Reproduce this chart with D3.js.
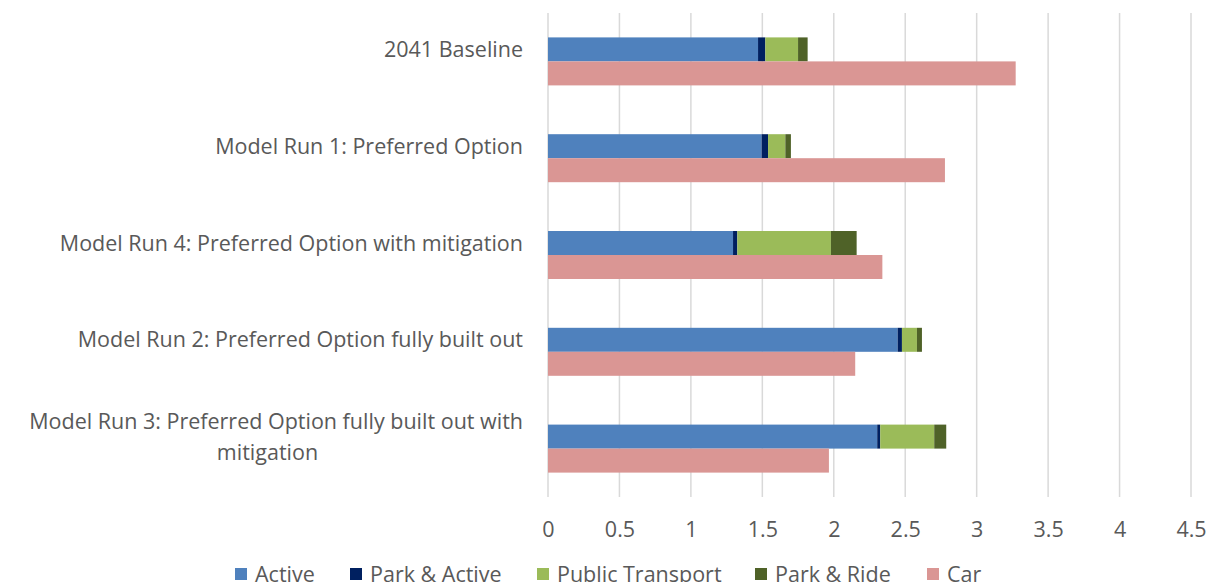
<!DOCTYPE html>
<html>
<head>
<meta charset="utf-8">
<script src="https://cdn.jsdelivr.net/npm/d3@7"></script>
<style>
  html, body { margin: 0; padding: 0; background: #fff; }
  svg { display: block; }
  text { font-family: "Open Sans", Lato, sans-serif; fill: #595959; }
</style>
</head>
<body>
<svg id="chart" width="1208" height="582"></svg>
<script>
// Scenario names (two-line labels split with "\n")
const categories = [
  "2041 Baseline",
  "Model Run 1: Preferred Option",
  "Model Run 4: Preferred Option with mitigation",
  "Model Run 2: Preferred Option fully built out",
  "Model Run 3: Preferred Option fully built out with\nmitigation"
];
// Stacked sustainable-mode series
const active          = [1.470, 1.495, 1.295, 2.447, 2.304];
const parkActive      = [0.051, 0.045, 0.030, 0.030, 0.021];
const publicTransport = [0.229, 0.121, 0.655, 0.105, 0.378];
const parkRide        = [0.067, 0.039, 0.180, 0.035, 0.084];
// Car series (separate bar)
const car             = [3.273, 2.778, 2.340, 2.150, 1.966];

const tickValues = [0, 0.5, 1, 1.5, 2, 2.5, 3, 3.5, 4, 4.5];
const seriesNames = ["Active", "Park & Active", "Public Transport", "Park & Ride", "Car"];
const seriesColors = ["#4f81bd", "#002060", "#9bbb59", "#4f6228", "#da9694"];

const svg = d3.select("#chart");
const plot = { left: 548, right: 1191, top: 13, bottom: 497 };
const fontSize = 21.5;

const x = d3.scaleLinear().domain([0, 4.5]).range([plot.left, plot.right]);
const y = d3.scaleBand().domain(categories).range([plot.top, plot.bottom]).paddingInner(0).paddingOuter(0);
const barH = 24;

// Vertical gridlines
svg.append("g")
  .selectAll("line")
  .data(tickValues)
  .join("line")
  .attr("x1", d => x(d)).attr("x2", d => x(d))
  .attr("y1", plot.top).attr("y2", plot.bottom)
  .attr("stroke", "#d9d9d9").attr("stroke-width", 1.5);

// Stacked bars (upper half of each band)
const stackKeys = ["active", "parkActive", "publicTransport", "parkRide"];
const rows = categories.map((c, i) => ({
  cat: c,
  active: active[i], parkActive: parkActive[i],
  publicTransport: publicTransport[i], parkRide: parkRide[i]
}));
const stacked = d3.stack().keys(stackKeys)(rows);

svg.append("g")
  .selectAll("g")
  .data(stacked)
  .join("g")
  .attr("fill", (d, i) => seriesColors[i])
  .selectAll("rect")
  .data(d => d)
  .join("rect")
  .attr("x", d => x(d[0]))
  .attr("width", d => x(d[1]) - x(d[0]))
  .attr("y", d => y(d.data.cat) + y.bandwidth() / 2 - barH)
  .attr("height", barH);

// Car bars (lower half of each band)
svg.append("g")
  .selectAll("rect")
  .data(categories)
  .join("rect")
  .attr("fill", seriesColors[4])
  .attr("x", x(0))
  .attr("width", (d, i) => x(car[i]) - x(0))
  .attr("y", d => y(d) + y.bandwidth() / 2)
  .attr("height", barH);

// Category labels
const catG = svg.append("g");
categories.forEach(c => {
  const lines = c.split("\n");
  const cy = y(c) + y.bandwidth() / 2 - 12;
  const t = catG.append("text").attr("font-size", fontSize);
  if (lines.length === 1) {
    t.attr("text-anchor", "end").attr("x", 523).attr("y", cy).attr("dy", "0.35em").text(c);
  } else {
    const cx = (12 + 523) / 2;
    lines.forEach((ln, k) => {
      t.append("tspan")
        .attr("x", k === 0 ? 523 : cx)
        .attr("text-anchor", k === 0 ? "end" : "middle")
        .attr("y", cy - 15.5 + k * 31)
        .attr("dy", "0.35em")
        .text(ln);
    });
  }
});

// Value axis
const axis = d3.axisBottom(x).tickValues(tickValues).tickSize(0).tickPadding(0)
  .tickFormat(d3.format("~g"));
const ax = svg.append("g").attr("transform", `translate(0, 529)`).call(axis);
ax.select(".domain").remove();
ax.selectAll("text")
  .attr("font-size", fontSize)
  .attr("font-family", "\"Open Sans\", sans-serif")
  .attr("fill", "#595959")
  .attr("dy", "0.35em")
  .attr("y", 0);

// Legend
const legendPos = [235, 350, 537, 755, 927];
const lg = svg.append("g");
seriesNames.forEach((name, i) => {
  lg.append("rect")
    .attr("x", legendPos[i]).attr("y", 568)
    .attr("width", 12).attr("height", 12)
    .attr("fill", seriesColors[i]);
  lg.append("text")
    .attr("x", legendPos[i] + 20).attr("y", 574)
    .attr("dy", "0.35em")
    .attr("font-size", fontSize)
    .text(name);
});
</script>
</body>
</html>
